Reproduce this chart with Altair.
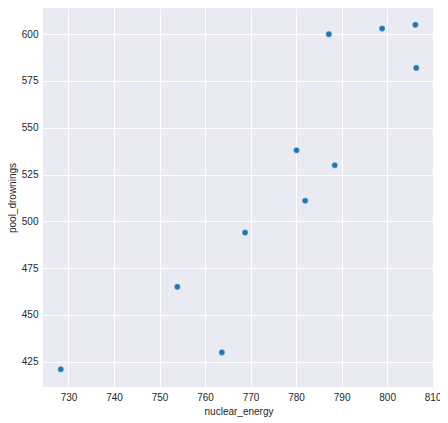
import altair as alt
import pandas as pd

nuclear_energy = [728.3, 753.9, 768.8, 780.1, 763.7, 788.5, 782.0, 787.2, 806.4, 806.2, 798.9]
pool_drownings = [421, 465, 494, 538, 430, 530, 511, 600, 582, 605, 603]

x_ticks = [730, 740, 750, 760, 770, 780, 790, 800, 810]
y_ticks = [425, 450, 475, 500, 525, 550, 575, 600]

df = pd.DataFrame({"nuclear_energy": nuclear_energy, "pool_drownings": pool_drownings})

FONT = "Liberation Sans"
TXT = "#262626"

chart = (
    alt.Chart(df)
    .mark_point(filled=True, size=38, color="#1f77b4", stroke="white", strokeWidth=0.4, opacity=1)
    .encode(
        x=alt.X("nuclear_energy:Q",
                scale=alt.Scale(domain=[724.4, 810.3], nice=False, zero=False),
                axis=alt.Axis(values=x_ticks, title="nuclear_energy")),
        y=alt.Y("pool_drownings:Q",
                scale=alt.Scale(domain=[411.5, 614.0], nice=False, zero=False),
                axis=alt.Axis(values=y_ticks, title="pool_drownings")),
    )
    .properties(
        width=391,
        height=379,
        autosize=alt.AutoSizeParams(type="none"),
        padding={"left": 35, "top": 0, "right": 6, "bottom": 34},
        background="white",
    )
    .configure_view(fill="#EAEAF2", stroke=None)
    .configure_axis(
        domain=False,
        ticks=False,
        grid=True,
        gridColor="white",
        gridWidth=1,
        labelFont=FONT,
        labelFontSize=10,
        labelColor=TXT,
        titleFont=FONT,
        titleFontSize=10,
        titleFontWeight="normal",
        titleColor=TXT,
        labelPadding=5,
        titlePadding=4,
    )
)

chart.save("out.html", embed_options={"renderer": "svg", "actions": False})
